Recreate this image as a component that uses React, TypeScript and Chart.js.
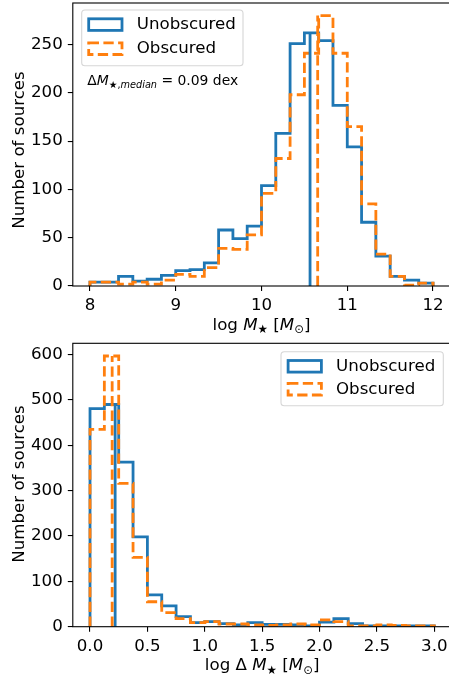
import React, { useEffect, useRef } from "react";
import { Chart, registerables } from "chart.js";

Chart.register(...registerables);

// ---------------- data ----------------
const seriesLabels = ["Unobscured", "Obscured"];

const massBinEdges = [
  8.0, 8.1667, 8.3333, 8.5, 8.6667, 8.8333, 9.0, 9.1667, 9.3333, 9.5, 9.6667, 9.8333,
  10.0, 10.1667, 10.3333, 10.5, 10.6667, 10.8333, 11.0, 11.1667, 11.3333, 11.5, 11.6667, 11.8333, 12.0,
];
const massUnobscured = [4, 4, 10, 5, 7, 11, 16, 17, 24, 58, 49, 62, 104, 158, 251, 262, 254, 187, 144, 66, 31, 10, 6, 3];
const massObscured = [4, 4, 2, 4, 2, 6, 12, 10, 19, 39, 38, 53, 96, 132, 198, 241, 280, 241, 165, 85, 33, 10, 1, 3];
const massMedianUnobscured = 10.566;
const massMedianObscured = 10.655;
const massXTicks = [8, 9, 10, 11, 12];
const massYTicks = [0, 50, 100, 150, 200, 250];

const deltaBinEdges = [
  0.0, 0.125, 0.25, 0.375, 0.5, 0.625, 0.75, 0.875, 1.0, 1.125, 1.25, 1.375, 1.5,
  1.625, 1.75, 1.875, 2.0, 2.125, 2.25, 2.375, 2.5, 2.625, 2.75, 2.875, 3.0,
];
const deltaUnobscured = [481, 490, 363, 198, 70, 46, 22, 9, 11, 7, 4, 9, 5, 5, 4, 2, 10, 18, 7, 2, 2, 2, 2, 2];
const deltaObscured = [435, 597, 316, 153, 55, 31, 18, 9, 11, 6, 6, 4, 3, 4, 6, 4, 15, 11, 2, 2, 4, 3, 2, 2];
const deltaMedianUnobscured = 0.219;
const deltaMedianObscured = 0.193;
const deltaXTicks = [0, 0.5, 1, 1.5, 2, 2.5, 3];
const deltaYTicks = [0, 100, 200, 300, 400, 500, 600];

// ---------------- styling ----------------
const BLUE = "#1f77b4";
const ORANGE = "#ff7f0e";
const LW = 2.8;
const DASH = [10.3, 4.4];
const FAM = '"DejaVu Sans", sans-serif';
const FS = 16.67;

type Seg = { t: string; it?: boolean; sub?: boolean };

function stepPoints(edges: number[], counts: number[]) {
  const pts: { x: number; y: number }[] = [{ x: edges[0], y: 0 }];
  counts.forEach((c, i) => {
    pts.push({ x: edges[i], y: c });
    pts.push({ x: edges[i + 1], y: c });
  });
  pts.push({ x: edges[edges.length - 1], y: 0 });
  return pts;
}

function drawRich(ctx: CanvasRenderingContext2D, segs: Seg[], x: number, y: number, size: number, align: "left" | "center") {
  const f = (s: Seg) => `${s.it ? "italic " : ""}${(s.sub ? size * 0.7 : size).toFixed(2)}px ${FAM}`;
  let total = 0;
  const ws = segs.map((s) => {
    ctx.font = f(s);
    const w = ctx.measureText(s.t).width;
    total += w;
    return w;
  });
  let cx = align === "center" ? x - total / 2 : x;
  ctx.textAlign = "left";
  ctx.textBaseline = "alphabetic";
  ctx.fillStyle = "#000";
  segs.forEach((s, i) => {
    ctx.font = f(s);
    ctx.fillText(s.t, cx, s.sub ? y + size * 0.2 : y);
    cx += ws[i];
  });
}

function roundRect(ctx: CanvasRenderingContext2D, x: number, y: number, w: number, h: number, r: number) {
  ctx.beginPath();
  ctx.moveTo(x + r, y);
  ctx.lineTo(x + w - r, y);
  ctx.arcTo(x + w, y, x + w, y + r, r);
  ctx.lineTo(x + w, y + h - r);
  ctx.arcTo(x + w, y + h, x + w - r, y + h, r);
  ctx.lineTo(x + r, y + h);
  ctx.arcTo(x, y + h, x, y + h - r, r);
  ctx.lineTo(x, y + r);
  ctx.arcTo(x, y, x + r, y, r);
  ctx.closePath();
}

type Cfg = {
  key: string;
  edges: number[];
  blue: number[];
  orange: number[];
  medBlue: number;
  medOrange: number;
  xMin: number;
  xMax: number;
  yMax: number;
  xTicks: number[];
  yTicks: number[];
  xFmt: (v: number) => string;
  canvasW: number;
  canvasH: number;
  area: { left: number; right: number; top: number; bottom: number };
  legend: { x: number; y: number; w: number; h: number; hx: number; rows: number[]; tx: number };
  note?: { x: number; y: number; segs: Seg[] };
  xlabel: Seg[];
  xlabelY: number;
  ylabelX: number;
  ylabelY: number;
};

function buildChart(canvas: HTMLCanvasElement, c: Cfg) {
  const overlay = {
    id: "overlay_" + c.key,
    afterDraw(chart: any) {
      const ctx: CanvasRenderingContext2D = chart.ctx;
      const a = chart.chartArea;
      ctx.save();
      // spines
      ctx.setLineDash([]);
      ctx.strokeStyle = "#000";
      ctx.lineWidth = 1.1;
      ctx.strokeRect(a.left, a.top, a.right - a.left, a.bottom - a.top);
      // legend
      const L = c.legend;
      roundRect(ctx, L.x, L.y, L.w, L.h, 3.3);
      ctx.fillStyle = "rgba(255,255,255,0.8)";
      ctx.fill();
      ctx.strokeStyle = "#d6d6d6";
      ctx.lineWidth = 1.1;
      ctx.stroke();
      const colors = [BLUE, ORANGE];
      L.rows.forEach((cy, i) => {
        ctx.strokeStyle = colors[i];
        ctx.lineWidth = LW;
        ctx.setLineDash(i === 1 ? DASH : []);
        ctx.strokeRect(L.hx, cy - 5.8, 33.3, 11.6);
        ctx.setLineDash([]);
        ctx.fillStyle = "#000";
        ctx.font = `${FS}px ${FAM}`;
        ctx.textAlign = "left";
        ctx.textBaseline = "middle";
        ctx.fillText(seriesLabels[i], L.tx, cy);
      });
      // annotation
      if (c.note) drawRich(ctx, c.note.segs, c.note.x, c.note.y, 13.9, "left");
      // x label
      drawRich(ctx, c.xlabel, (a.left + a.right) / 2, c.xlabelY, FS, "center");
      // y label
      ctx.save();
      ctx.translate(c.ylabelX, c.ylabelY);
      ctx.rotate(-Math.PI / 2);
      ctx.font = `${FS}px ${FAM}`;
      ctx.fillStyle = "#000";
      ctx.textAlign = "center";
      ctx.textBaseline = "alphabetic";
      ctx.fillText("Number of sources", 0, 0);
      ctx.restore();
      ctx.restore();
    },
  };

  const zeroPad = (s: any) => {
    s.paddingLeft = 0;
    s.paddingRight = 0;
    s.paddingTop = 0;
    s.paddingBottom = 0;
  };

  const tickFont = { family: FAM, size: FS };
  const grid = { drawOnChartArea: false, drawTicks: true, tickLength: 5, tickColor: "#000", tickWidth: 1.1, lineWidth: 1.1, color: "#000" };

  return new Chart(canvas, {
    type: "scatter",
    data: {
      datasets: [
        { label: seriesLabels[0], data: stepPoints(c.edges, c.blue), borderColor: BLUE, borderWidth: LW, showLine: true, pointRadius: 0, fill: false, order: 4, clip: 0 } as any,
        { label: seriesLabels[1], data: stepPoints(c.edges, c.orange), borderColor: ORANGE, borderDash: DASH, borderWidth: LW, showLine: true, pointRadius: 0, fill: false, order: 3, clip: 0 } as any,
        { label: "median " + seriesLabels[0], data: [{ x: c.medBlue, y: 0 }, { x: c.medBlue, y: Math.max(...c.blue) }], borderColor: BLUE, borderWidth: LW, showLine: true, pointRadius: 0, fill: false, order: 2, clip: 0 } as any,
        { label: "median " + seriesLabels[1], data: [{ x: c.medOrange, y: 0 }, { x: c.medOrange, y: Math.max(...c.orange) }], borderColor: ORANGE, borderDash: DASH, borderWidth: LW, showLine: true, pointRadius: 0, fill: false, order: 1, clip: 0 } as any,
      ],
    },
    options: {
      responsive: false,
      animation: false,
      devicePixelRatio: 1,
      events: [],
      layout: {
        padding: { left: 0, top: c.area.top, right: c.canvasW - c.area.right, bottom: 0 },
      },
      plugins: { legend: { display: false }, tooltip: { enabled: false }, title: { display: false } },
      scales: {
        x: {
          type: "linear",
          min: c.xMin,
          max: c.xMax,
          afterBuildTicks: (s: any) => {
            s.ticks = c.xTicks.map((v) => ({ value: v }));
          },
          afterFit: (s: any) => {
            s.height = c.canvasH - c.area.bottom;
            zeroPad(s);
          },
          ticks: { font: tickFont, color: "#000", padding: 5, autoSkip: false, maxRotation: 0, callback: (v: any) => c.xFmt(Number(v)) },
          grid,
          border: { display: false },
        },
        y: {
          type: "linear",
          min: 0,
          max: c.yMax,
          afterBuildTicks: (s: any) => {
            s.ticks = c.yTicks.map((v) => ({ value: v }));
          },
          afterFit: (s: any) => {
            s.width = c.area.left;
            zeroPad(s);
          },
          ticks: { font: tickFont, color: "#000", padding: 5, autoSkip: false, callback: (v: any) => String(v) },
          grid,
          border: { display: false },
        },
      },
    } as any,
    plugins: [overlay],
  });
}

const TOP_H = 345;
const BOT_TOP = 335;
const BOT_H = 682 - BOT_TOP;
const CW = 460;

export default function App() {
  const topRef = useRef<HTMLCanvasElement>(null);
  const botRef = useRef<HTMLCanvasElement>(null);

  useEffect(() => {
    const top = buildChart(topRef.current!, {
      key: "mass",
      edges: massBinEdges,
      blue: massUnobscured,
      orange: massObscured,
      medBlue: massMedianUnobscured,
      medOrange: massMedianObscured,
      xMin: 7.8,
      xMax: 12.2,
      yMax: 293,
      xTicks: massXTicks,
      yTicks: massYTicks,
      xFmt: (v) => String(v),
      canvasW: CW,
      canvasH: TOP_H,
      area: { left: 72.8, right: 450.2, top: 3, bottom: 286 },
      legend: { x: 81.7, y: 10, w: 161.3, h: 55.7, hx: 88.7, rows: [24.6, 48.7], tx: 136.7 },
      note: {
        x: 87.3,
        y: 85,
        segs: [{ t: "Δ" }, { t: "M", it: true }, { t: "★,", sub: true }, { t: "median", sub: true, it: true }, { t: " = 0.09 dex" }],
      },
      xlabel: [{ t: "log " }, { t: "M", it: true }, { t: "★", sub: true }, { t: " [" }, { t: "M", it: true }, { t: "⊙", sub: true }, { t: "]" }],
      xlabelY: 329.5,
      ylabelX: 24,
      ylabelY: 150,
    });
    const bot = buildChart(botRef.current!, {
      key: "delta",
      edges: deltaBinEdges,
      blue: deltaUnobscured,
      orange: deltaObscured,
      medBlue: deltaMedianUnobscured,
      medOrange: deltaMedianObscured,
      xMin: -0.15,
      xMax: 3.15,
      yMax: 625,
      xTicks: deltaXTicks,
      yTicks: deltaYTicks,
      xFmt: (v) => v.toFixed(1),
      canvasW: CW,
      canvasH: BOT_H,
      area: { left: 72.8, right: 451.5, top: 343.3 - BOT_TOP, bottom: 626.7 - BOT_TOP },
      legend: { x: 281, y: 351.7 - BOT_TOP, w: 162.3, h: 54, hx: 288.1, rows: [366.3 - BOT_TOP, 389.2 - BOT_TOP], tx: 336 },
      xlabel: [{ t: "log Δ " }, { t: "M", it: true }, { t: "★", sub: true }, { t: " [" }, { t: "M", it: true }, { t: "⊙", sub: true }, { t: "]" }],
      xlabelY: 670.2 - BOT_TOP,
      ylabelX: 24,
      ylabelY: 484 - BOT_TOP,
    });
    return () => {
      top.destroy();
      bot.destroy();
    };
  }, []);

  return (
    <div style={{ position: "fixed", left: 0, top: 0, width: 449, height: 682, overflow: "hidden", background: "#fff" }}>
      <canvas ref={topRef} width={CW} height={TOP_H} style={{ position: "absolute", left: 0, top: 0, width: CW, height: TOP_H }} />
      <canvas ref={botRef} width={CW} height={BOT_H} style={{ position: "absolute", left: 0, top: BOT_TOP, width: CW, height: BOT_H }} />
    </div>
  );
}
